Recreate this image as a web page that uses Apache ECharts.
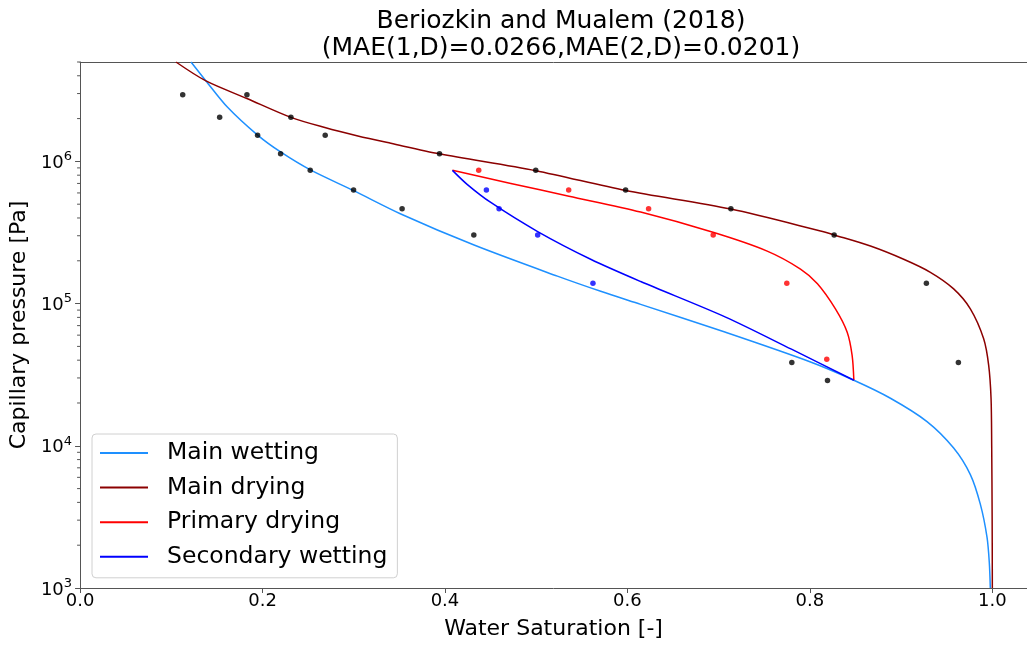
<!DOCTYPE html>
<html>
<head>
<meta charset="utf-8">
<script src="https://cdn.jsdelivr.net/npm/echarts@6/dist/echarts.min.js"></script>
<style>
  html, body { margin: 0; padding: 0; background: #fff; overflow: hidden; }
  #chart { width: 1027px; height: 645px; }
</style>
</head>
<body>
<div id="chart"></div>
<script>
// Model curves: water saturation [-] and capillary pressure [Pa]
const mainWettingS  = [0.1216, 0.138, 0.1617, 0.1946, 0.2202, 0.253, 0.3005, 0.3516, 0.4319, 0.5232, 0.5707, 0.6145, 0.7076, 0.800, 0.8482, 0.8883, 0.9284, 0.9576, 0.9759, 0.9869, 0.9942, 0.9967, 0.9978];
const mainWettingPc = [5.0e6, 3.68e6, 2.4e6, 1.53e6, 1.16e6, 8.67e5, 6.2e5, 4.27e5, 2.58e5, 1.56e5, 1.22e5, 9.87e4, 6.28e4, 3.9e4, 2.89e4, 2.16e4, 1.48e4, 9.64e3, 6.27e3, 3.87e3, 2.27e3, 1.5e3, 1.0e3];

const mainDryingS  = [0.1051, 0.138, 0.1829, 0.2311, 0.2683, 0.3045, 0.3406, 0.394, 0.4995, 0.598, 0.7134, 0.8116, 0.8266, 0.8664, 0.9028, 0.9321, 0.9576, 0.9759, 0.9905, 0.996, 0.9986, 0.9993, 0.9998, 1.0];
const mainDryingPc = [5.0e6, 3.68e6, 2.77e6, 2.04e6, 1.73e6, 1.51e6, 1.34e6, 1.13e6, 8.6e5, 6.24e5, 4.62e5, 3.24e5, 3.04e5, 2.54e5, 2.05e5, 1.66e5, 1.27e5, 9.19e4, 5.66e4, 3.68e4, 2.15e4, 1.0e4, 3.0e3, 1.0e3];

const primaryDryingS  = [0.4082, 0.4722, 0.5359, 0.6145, 0.6947, 0.7532, 0.7897, 0.8083, 0.828, 0.8409, 0.8463, 0.8482];
const primaryDryingPc = [8.65e5, 7.0e5, 5.69e5, 4.4e5, 3.16e5, 2.34e5, 1.75e5, 1.38e5, 9.19e4, 6.3e4, 4.33e4, 2.89e4];

const secondaryWettingS  = [0.4082, 0.4246, 0.4502, 0.5016, 0.5597, 0.6145, 0.7076, 0.7798, 0.8482];
const secondaryWettingPc = [8.65e5, 6.87e5, 5.14e5, 3.21e5, 2.05e5, 1.43e5, 8.04e4, 4.78e4, 2.89e4];

// Measured points
const obsWettingS  = [0.1125, 0.153, 0.1946, 0.2198, 0.2523, 0.2998, 0.353, 0.4316, 0.7802, 0.8193];
const obsWettingPc = [2.94e6, 2.04e6, 1.53e6, 1.13e6, 8.65e5, 6.3e5, 4.65e5, 3.04e5, 3.85e4, 2.88e4];

const obsDryingS  = [0.1829, 0.2311, 0.2687, 0.394, 0.4995, 0.598, 0.7134, 0.8266, 0.9277, 0.9628];
const obsDryingPc = [2.94e6, 2.04e6, 1.53e6, 1.13e6, 8.65e5, 6.3e5, 4.65e5, 3.04e5, 1.39e5, 3.85e4];

const obsPrimaryS  = [0.437, 0.5356, 0.6232, 0.694, 0.7747, 0.8185];
const obsPrimaryPc = [8.65e5, 6.3e5, 4.65e5, 3.04e5, 1.39e5, 4.06e4];

const obsSecondaryS  = [0.4454, 0.4593, 0.5016, 0.5622];
const obsSecondaryPc = [6.3e5, 4.65e5, 3.04e5, 1.39e5];

// Axes
const xTicks = [0.0, 0.2, 0.4, 0.6, 0.8, 1.0];
const xMin = 0, xMax = 1.038;
const yMin = 1e3, yMax = 5e6;

const titleLines = ['Beriozkin and Mualem (2018)', '(MAE(1,D)=0.0266,MAE(2,D)=0.0201)'];
const seriesNames = ['Main wetting', 'Main drying', 'Primary drying', 'Secondary wetting'];
const seriesColors = ['#1e90ff', '#8b0000', '#ff0000', '#0000ff'];

const FONT = 'DejaVu Sans';
const AXIS_COLOR = '#555';
const zip = (a, b) => a.map((v, i) => [v, b[i]]);

// log-axis minor ticks at 2..9 x 10^k
const minorTicks = [];
for (let e = 3; e <= 6; e++) {
  for (let m = 2; m <= 9; m++) {
    const v = m * Math.pow(10, e);
    if (v <= yMax) minorTicks.push([xMin, v]);
  }
}

const lineSeries = (name, s, p, color) => ({
  name, type: 'line', data: zip(s, p), showSymbol: false, symbol: 'none',
  smooth: 0.3, lineStyle: { color, width: 1.5 }, itemStyle: { color }, z: 2, animation: false
});
const dotSeries = (s, p, color) => ({
  type: 'scatter', data: zip(s, p), symbolSize: 5.5,
  itemStyle: { color }, z: 5, animation: false, silent: true
});

const chart = echarts.init(document.getElementById('chart'), null, { renderer: 'canvas' });
chart.setOption({
  animation: false,
  backgroundColor: '#fff',
  title: {
    text: titleLines.join('\n'),
    left: 556, top: 3, textAlign: 'center',
    textStyle: { fontFamily: FONT, fontSize: 25, fontWeight: 'normal', color: '#000', lineHeight: 27 }
  },
  grid: { left: 79, top: 62, width: 948, height: 529 },
  legend: {
    data: seriesNames,
    orient: 'vertical', left: 92, top: 434,
    icon: 'rect', itemWidth: 48, itemHeight: 2, itemGap: 8.6,
    padding: [6, 10, 8, 8],
    backgroundColor: 'rgba(255,255,255,0.8)', borderColor: '#d0d0d0', borderWidth: 1, borderRadius: 4,
    textStyle: { fontFamily: FONT, fontSize: 23.5, color: '#000', lineHeight: 26, padding: [0, 0, 0, 14] }
  },
  xAxis: [{
    type: 'value', min: xMin, max: xMax, interval: 0.2,
    name: 'Water Saturation [-]', nameLocation: 'middle', nameGap: 30,
    nameTextStyle: { fontFamily: FONT, fontSize: 22, color: '#000' },
    axisLine: { lineStyle: { color: AXIS_COLOR, width: 1 } },
    axisTick: { show: true, length: 5, lineStyle: { color: AXIS_COLOR } },
    axisLabel: {
      fontFamily: FONT, fontSize: 18, color: '#000', margin: 4, showMaxLabel: false,
      formatter: v => xTicks.some(t => Math.abs(t - v) < 1e-9) ? v.toFixed(1) : ''
    },
    splitLine: { show: false }
  }, {
    // top frame line
    type: 'value', position: 'top', min: xMin, max: xMax,
    axisLine: { show: true, lineStyle: { color: AXIS_COLOR, width: 1 } },
    axisTick: { show: false }, axisLabel: { show: false }, splitLine: { show: false }
  }],
  yAxis: {
    type: 'log', logBase: 10, min: yMin, max: yMax,
    name: 'Capillary pressure [Pa]', nameLocation: 'middle', nameGap: 46,
    nameTextStyle: { fontFamily: FONT, fontSize: 22, color: '#000' },
    axisLine: { show: true, lineStyle: { color: AXIS_COLOR, width: 1 } },
    axisTick: { show: true, length: 5, lineStyle: { color: AXIS_COLOR } },
    axisLabel: {
      margin: 8, showMaxLabel: false,
      formatter: v => '{b|10}{s|' + Math.round(Math.log10(v)) + '}',
      rich: {
        b: { fontFamily: FONT, fontSize: 18, color: '#000', lineHeight: 22, verticalAlign: 'bottom' },
        s: { fontFamily: FONT, fontSize: 13, color: '#000', lineHeight: 13, verticalAlign: 'top' }
      }
    },
    splitLine: { show: false }
  },
  series: [
    lineSeries(seriesNames[0], mainWettingS, mainWettingPc, seriesColors[0]),
    lineSeries(seriesNames[1], mainDryingS, mainDryingPc, seriesColors[1]),
    lineSeries(seriesNames[2], primaryDryingS, primaryDryingPc, seriesColors[2]),
    lineSeries(seriesNames[3], secondaryWettingS, secondaryWettingPc, seriesColors[3]),
    dotSeries(obsWettingS, obsWettingPc, '#000'),
    dotSeries(obsDryingS, obsDryingPc, '#000'),
    dotSeries(obsPrimaryS, obsPrimaryPc, '#ff0000'),
    dotSeries(obsSecondaryS, obsSecondaryPc, '#0000ff'),
    {
      type: 'custom', data: minorTicks, clip: false, silent: true, z: 3,
      renderItem: (params, api) => {
        const p = api.coord([api.value(0), api.value(1)]);
        return { type: 'line', shape: { x1: p[0] - 3, y1: p[1], x2: p[0], y2: p[1] },
                 style: { stroke: AXIS_COLOR, lineWidth: 1 } };
      }
    }
  ]
});
</script>
</body>
</html>
